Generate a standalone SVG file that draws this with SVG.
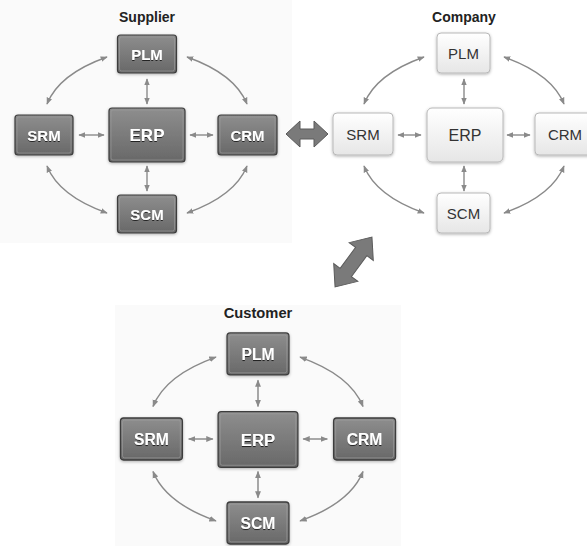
<svg xmlns="http://www.w3.org/2000/svg" width="587" height="546" viewBox="0 0 587 546">
<defs>
<linearGradient id="gDark" x1="0" y1="0" x2="0" y2="1">
<stop offset="0" stop-color="#8e8e8e"/><stop offset="1" stop-color="#686868"/>
</linearGradient>
<linearGradient id="gLight" x1="0" y1="0" x2="0" y2="1">
<stop offset="0" stop-color="#ffffff"/><stop offset="1" stop-color="#e6e6e6"/>
</linearGradient>
<filter id="sh" x="-20%" y="-20%" width="140%" height="150%">
<feDropShadow dx="0" dy="1" stdDeviation="1.5" flood-color="#000" flood-opacity="0.3"/>
</filter>
<filter id="tsh" x="-20%" y="-30%" width="140%" height="160%">
<feDropShadow dx="0" dy="1" stdDeviation="0.6" flood-color="#000" flood-opacity="0.7"/>
</filter>
<marker id="ah" viewBox="0 0 10 10" refX="9" refY="5" markerWidth="5" markerHeight="5" orient="auto-start-reverse">
<path d="M0,1 L10,5 L0,9 z" fill="#8a8a8a"/>
</marker>
</defs>
<style>
.dk{fill:url(#gDark);stroke:#3c3c3c;stroke-width:1.2;filter:url(#sh)}
.dki{fill:none;stroke:#a0a0a0;stroke-width:0.8;opacity:0.7}
.lt{fill:url(#gLight);stroke:#b8b8b8;stroke-width:1;filter:url(#sh)}
.dt{font-family:"Liberation Sans",Arial,sans-serif;font-weight:bold;font-size:15px;fill:#ffffff;text-anchor:middle;filter:url(#tsh)}
.ltx{font-family:"Liberation Sans",Arial,sans-serif;font-size:15px;fill:#333333;text-anchor:middle}
.ttl{font-family:"Liberation Sans",Arial,sans-serif;font-weight:bold;font-size:14px;fill:#222;text-anchor:middle}
.cn{fill:none;stroke:#8a8a8a;stroke-width:1.4;marker-start:url(#ah);marker-end:url(#ah)}
.big{fill:#7a7a7a;stroke:#5a5a5a;stroke-width:1}
</style>
<rect width="587" height="546" fill="#ffffff"/>
<rect x="0" y="0" width="292" height="243" fill="#fafafa"/>
<rect x="115" y="305" width="286" height="241" fill="#fafafa"/>

<!-- Supplier -->
<g id="supplier" transform="translate(147,135)">
<text class="ttl" x="0" y="-113">Supplier</text>
<g id="supplier-connectors">
<path class="cn" d="M0,-56 L0,-31"/>
<path class="cn" d="M0,31 L0,56"/>
<path class="cn" d="M-68,0 L-43,0"/>
<path class="cn" d="M43,0 L66,0"/>
<path class="cn" d="M-40,-78 Q-88,-61 -100,-31"/>
<path class="cn" d="M40,-78 Q88,-61 100,-31"/>
<path class="cn" d="M-100,31 Q-88,61 -40,78"/>
<path class="cn" d="M100,31 Q88,61 40,78"/>
</g>
<g id="supplier-plm"><rect class="dk" x="-29.5" y="-100" width="59" height="38" rx="3"/><rect class="dki" x="-27.5" y="-98" width="55" height="34" rx="2"/><text class="dt" x="0" y="-75.5">PLM</text></g>
<g id="supplier-erp"><rect class="dk" x="-38" y="-27" width="76" height="54" rx="3"/><rect class="dki" x="-36" y="-25" width="72" height="50" rx="2"/><text class="dt" x="0" y="6" style="font-size:17px">ERP</text></g>
<g id="supplier-srm"><rect class="dk" x="-132" y="-20" width="58" height="40" rx="3"/><rect class="dki" x="-130" y="-18" width="54" height="36" rx="2"/><text class="dt" x="-103" y="5.5">SRM</text></g>
<g id="supplier-crm"><rect class="dk" x="71" y="-20" width="59" height="40" rx="3"/><rect class="dki" x="73" y="-18" width="55" height="36" rx="2"/><text class="dt" x="100.5" y="5.5">CRM</text></g>
<g id="supplier-scm"><rect class="dk" x="-29.5" y="60" width="59" height="38" rx="3"/><rect class="dki" x="-27.5" y="62" width="55" height="34" rx="2"/><text class="dt" x="0" y="84.5">SCM</text></g>
</g>

<!-- Company -->
<g id="company" transform="translate(464,135)">
<text class="ttl" x="0" y="-113">Company</text>
<g id="company-connectors">
<path class="cn" d="M0,-56 L0,-31"/>
<path class="cn" d="M0,31 L0,56"/>
<path class="cn" d="M-66,0 L-43,0"/>
<path class="cn" d="M43,0 L66,0"/>
<path class="cn" d="M-40,-78 Q-88,-61 -100,-31"/>
<path class="cn" d="M40,-78 Q88,-61 100,-31"/>
<path class="cn" d="M-100,31 Q-88,61 -40,78"/>
<path class="cn" d="M100,31 Q88,61 40,78"/>
</g>
<g id="company-plm"><rect class="lt" x="-27" y="-102" width="53" height="40" rx="4"/><text class="ltx" x="-0.5" y="-76">PLM</text></g>
<g id="company-erp"><rect class="lt" x="-37" y="-27" width="76" height="54" rx="5"/><text class="ltx" x="1" y="6" style="font-size:16px">ERP</text></g>
<g id="company-srm"><rect class="lt" x="-131" y="-22" width="60" height="42" rx="4"/><text class="ltx" x="-101" y="5">SRM</text></g>
<g id="company-crm"><rect class="lt" x="71" y="-22" width="60" height="42" rx="4"/><text class="ltx" x="101" y="5">CRM</text></g>
<g id="company-scm"><rect class="lt" x="-27" y="58" width="53" height="40" rx="4"/><text class="ltx" x="-0.5" y="84">SCM</text></g>
</g>

<!-- Customer -->
<g id="customer" transform="translate(258,439) scale(1.05)">
<text class="ttl" x="0" y="-115">Customer</text>
<g id="customer-connectors">
<path class="cn" d="M0,-56 L0,-31"/>
<path class="cn" d="M0,31 L0,56"/>
<path class="cn" d="M-66,0 L-43,0"/>
<path class="cn" d="M43,0 L66,0"/>
<path class="cn" d="M-40,-78 Q-88,-61 -100,-31"/>
<path class="cn" d="M40,-78 Q88,-61 100,-31"/>
<path class="cn" d="M-100,31 Q-88,61 -40,78"/>
<path class="cn" d="M100,31 Q88,61 40,78"/>
</g>
<g id="customer-plm"><rect class="dk" x="-29.5" y="-101" width="59" height="40" rx="3"/><rect class="dki" x="-27.5" y="-99" width="55" height="36" rx="2"/><text class="dt" x="0" y="-75.5">PLM</text></g>
<g id="customer-erp"><rect class="dk" x="-38" y="-26" width="76" height="53" rx="3"/><rect class="dki" x="-36" y="-24" width="72" height="49" rx="2"/><text class="dt" x="0" y="6.5" style="font-size:16px">ERP</text></g>
<g id="customer-srm"><rect class="dk" x="-131" y="-20" width="59" height="40" rx="3"/><rect class="dki" x="-129" y="-18" width="55" height="36" rx="2"/><text class="dt" x="-101.5" y="5.5">SRM</text></g>
<g id="customer-crm"><rect class="dk" x="72" y="-20" width="59" height="40" rx="3"/><rect class="dki" x="74" y="-18" width="55" height="36" rx="2"/><text class="dt" x="101.5" y="5.5">CRM</text></g>
<g id="customer-scm"><rect class="dk" x="-29.5" y="60" width="59" height="40" rx="3"/><rect class="dki" x="-27.5" y="62" width="55" height="36" rx="2"/><text class="dt" x="0" y="85.5">SCM</text></g>
</g>

<!-- Big connectors -->
<g id="big-connectors">
<polygon class="big" points="286,134 300,121 300,129 314,129 314,121 328,134 314,147 314,139 300,139 300,147"/>
<polygon class="big" transform="translate(353.5,262) rotate(-53.5)" points="-31,0 -13,-15 -13,-7 13,-7 13,-15 31,0 13,15 13,7 -13,7 -13,15"/>
</g>
</svg>
